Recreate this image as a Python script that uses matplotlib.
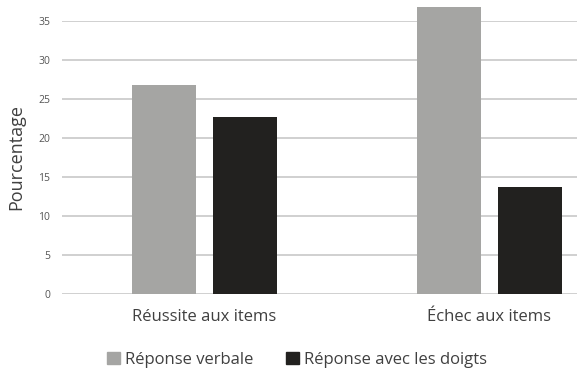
import matplotlib
matplotlib.use("Agg")
from matplotlib import pyplot as plt
from matplotlib.patches import Patch
import numpy as np

plt.rcParams['font.family'] = ['Open Sans', 'DejaVu Sans']

# data
categories = ["Réussite aux items", "Échec aux items"]
verbale = [26.7, 36.7]
doigts = [22.6, 13.7]
series_names = ["Réponse verbale", "Réponse avec les doigts"]
yticks = [0, 5, 10, 15, 20, 25, 30, 35]

grey = "#a5a5a3"
black = "#22211f"
text_col = "#404040"

fig = plt.figure(figsize=(5.77, 3.68), dpi=100)
W, H = 577, 368
# axes runs past the right edge of the picture (reference is cropped)
ax = fig.add_axes([62 / W, 1 - 293.7 / H, (577 - 62) / W, (293.7 - 20.7) / H])

x = np.arange(len(categories))
bw = 0.225
off = 0.1425
b1 = ax.bar(x - off, verbale, bw, color=grey, zorder=3)
b2 = ax.bar(x + off, doigts, bw, color=black, zorder=3)
for p in list(b1) + list(b2):
    p.set_clip_on(False)  # the tall bar goes above the 35 line

ax.set_xlim(-0.5, 1.308)
ax.set_ylim(0, 35)
ax.set_yticks(yticks)
ax.yaxis.grid(True, color="#c8c8c8", linewidth=1.2, zorder=0)
ax.tick_params(axis='y', length=0, labelsize=7.5, labelcolor="#555555", pad=8.5)
ax.set_xticks(x)
ax.set_xticklabels(categories, fontsize=12, color=text_col)
ax.tick_params(axis='x', length=0, pad=11)
for s in ax.spines.values():
    s.set_visible(False)

ax.set_ylabel("Pourcentage", fontsize=13, color=text_col, labelpad=9)

handles = [Patch(color=grey), Patch(color=black)]
fig.legend(handles, series_names, loc='center', bbox_to_anchor=(297 / W, 1 - 360 / H),
           ncol=2, frameon=False, fontsize=12, handlelength=0.75, handleheight=0.75,
           handletextpad=0.3, columnspacing=2.0, labelcolor=text_col)

plt.savefig("out.png", dpi=100)
plt.close()
